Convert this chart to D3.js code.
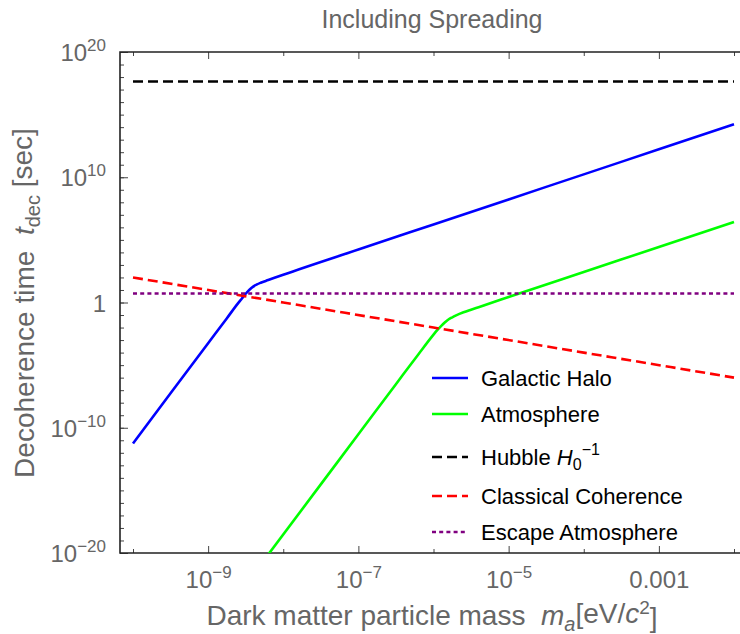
<!DOCTYPE html>
<html><head><meta charset="utf-8">
<script src="https://cdn.jsdelivr.net/npm/d3@7"></script>
<style>
body{margin:0;background:#fff;}
svg{display:block;font-family:"Liberation Sans",Arial,sans-serif;}
text{white-space:pre;}
</style></head><body>
<svg id="c" width="740" height="634"></svg>
<script>
// ---- data (mass in eV/c^2, time in sec) ----
const haloMass = [1e-10,3.16e-10,1e-9,1.78e-9,2.51e-9,2.82e-9,3.16e-9,3.55e-9,3.98e-9,4.47e-9,5.01e-9,6.31e-9,1e-8,1e-7,1e-6,1e-5,1e-4,1e-3,1e-2];
const haloTime = [5.6e-12,5.6e-8,5.6e-4,5.6e-2,0.89,2.1,5.0,10.5,18.6,28,38,62,165,1.7e4,1.7e6,1.7e8,1.7e10,1.7e12,1.7e14];
const atmMass = [5.62e-9,3.16e-8,1e-7,3.16e-7,6.31e-7,1e-6,1.12e-6,1.26e-6,1.41e-6,1.58e-6,1.78e-6,2.0e-6,2.51e-6,3.16e-6,3.98e-6,1e-5,1e-4,1e-3,1e-2];
const atmTime = [3.0e-21,3.0e-15,3.0e-11,3.0e-7,7.5e-5,2.7e-3,6.2e-3,1.3e-2,2.5e-2,4.4e-2,6.6e-2,9.3e-2,0.164,0.267,0.425,2.7,270,2.7e4,2.7e6];
const hubbleMass = [1e-10,1e-2];
const hubbleTime = [4.4e17,4.4e17];
const classMass = [1e-10,1e-8,1e-6,1e-4,1e-2];
const classTime = [100,1,1e-2,1e-4,1e-6];
const escMass = [1e-10,1e-2];
const escTime = [5.2,5.2];

const xMajorTicks = [1e-9,1e-7,1e-5,1e-3];
const xMajorLabels = [["10","−9"],["10","−7"],["10","−5"],["0.001",""]];
const xMinorTicks = [1e-10,1e-8,1e-6,1e-4,1e-2];
const yMajorTicks = [1e-20,1e-10,1,1e10,1e20];
const yMajorLabels = [["10","−20"],["10","−10"],["1",""],["10","10"],["10","20"]];
const yMinorTicks = d3.range(-20,21).map(e=>Math.pow(10,e));

const seriesNames = ["Galactic Halo","Atmosphere","Hubble","Classical Coherence","Escape Atmosphere"];
const seriesColors = ["#0000ff","#00ff00","#000000","#ff0000","#800080"];
const seriesDash = [null,null,"10,5","10,5","4,3.2"];

// ---- layout ----
const L=120,R=740,T=52,B=553;
const svg=d3.select("#c");
const x=d3.scaleLog().domain([1e-10,1e-2]).range([133,734]);
const y=d3.scaleLog().domain([1e-20,1e20]).range([B,T]);
const gray="#666666";

svg.append("defs").append("clipPath").attr("id","clip")
  .append("rect").attr("x",L).attr("y",T).attr("width",R-L).attr("height",B-T);

// title
svg.append("text").attr("x",432).attr("y",28).attr("text-anchor","middle")
  .attr("font-size",25).attr("fill",gray).text("Including Spreading");

function styleAxis(g){g.select(".domain").remove();g.selectAll(".tick line").attr("stroke","#444").attr("stroke-width",1);}

// x axis bottom
const xMajor=d3.axisBottom(x).tickValues(xMajorTicks).tickSize(-7).tickPadding(12).tickFormat(()=>"");
const gxb=svg.append("g").attr("transform",`translate(0,${B})`).call(xMajor).call(styleAxis);
gxb.selectAll(".tick text").each(function(d,i){
  const t=d3.select(this).attr("font-size",24).attr("fill",gray).attr("font-family","Liberation Sans, Arial, sans-serif").attr("dy","0.95em");
  t.append("tspan").text(xMajorLabels[i][0]);
  if(xMajorLabels[i][1]) t.append("tspan").attr("dy","-0.6em").attr("font-size",17).text(xMajorLabels[i][1]);
});
svg.append("g").attr("transform",`translate(0,${B})`).call(d3.axisBottom(x).tickValues(xMinorTicks).tickSize(-4).tickFormat(()=>"")).call(styleAxis);
// x axis top
svg.append("g").attr("transform",`translate(0,${T})`).call(d3.axisTop(x).tickValues(xMajorTicks).tickSize(-7).tickFormat(()=>"")).call(styleAxis);
svg.append("g").attr("transform",`translate(0,${T})`).call(d3.axisTop(x).tickValues(xMinorTicks).tickSize(-4).tickFormat(()=>"")).call(styleAxis);

// y axis
const gyl=svg.append("g").attr("transform",`translate(${L},0)`).call(d3.axisLeft(y).tickValues(yMajorTicks).tickSize(-8).tickPadding(14).tickFormat(()=>"")).call(styleAxis);
gyl.selectAll(".tick text").each(function(d,i){
  const t=d3.select(this).attr("font-size",24).attr("fill",gray).attr("font-family","Liberation Sans, Arial, sans-serif").attr("dy","0.36em");
  t.append("tspan").text(yMajorLabels[i][0]);
  if(yMajorLabels[i][1]) t.append("tspan").attr("dy","-0.6em").attr("font-size",17).text(yMajorLabels[i][1]);
});
svg.append("g").attr("transform",`translate(${L},0)`).call(d3.axisLeft(y).tickValues(yMinorTicks).tickSize(-4).tickFormat(()=>"")).call(styleAxis);

// frame
svg.append("path").attr("d",`M${R},${T}H${L}V${B}H${R}`).attr("fill","none").attr("stroke","#222").attr("stroke-width",1.6);

// series
const plot=svg.append("g").attr("clip-path","url(#clip)");
const line=d3.line().x(d=>x(d[0])).y(d=>y(d[1])).curve(d3.curveMonotoneX);
const series=[
  d3.zip(haloMass,haloTime),
  d3.zip(atmMass,atmTime),
  d3.zip(hubbleMass,hubbleTime),
  d3.zip(classMass,classTime),
  d3.zip(escMass,escTime)
];
series.forEach((s,i)=>{
  plot.append("path").datum(s).attr("d",line).attr("fill","none")
    .attr("stroke",seriesColors[i]).attr("stroke-width",2.6)
    .attr("stroke-dasharray",seriesDash[i]);
});

// legend
const legY=[378,414,457,496,532];
const leg=svg.append("g");
seriesNames.forEach((n,i)=>{
  leg.append("line").attr("x1",432).attr("x2",468).attr("y1",legY[i]).attr("y2",legY[i])
    .attr("stroke",seriesColors[i]).attr("stroke-width",2.6).attr("stroke-dasharray",seriesDash[i]);
  const t=leg.append("text").attr("x",481).attr("y",legY[i]).attr("dy","0.36em").attr("font-size",22).attr("fill","#000");
  if(i===2){
    t.append("tspan").text("Hubble ");
    t.append("tspan").attr("font-style","italic").text("H");
    t.append("tspan").attr("font-size",16).attr("dy","0.3em").text("0");
    t.append("tspan").attr("font-size",16).attr("dy","-0.95em").text("−1");
  } else t.text(n);
});

// x label
const xl=svg.append("text").attr("x",432).attr("y",625).attr("text-anchor","middle").attr("font-size",28).attr("fill",gray);
xl.append("tspan").text("Dark matter particle mass  ");
xl.append("tspan").attr("font-style","italic").text("m");
xl.append("tspan").attr("font-style","italic").attr("font-size",20).attr("dy","0.3em").text("a");
xl.append("tspan").attr("dy","-0.3em").text("[eV/");
xl.append("tspan").attr("font-style","italic").text("c");
xl.append("tspan").attr("font-size",19).attr("dy","-0.45em").text("2");
xl.append("tspan").attr("dy","0.45em").text("]");

// y label
const yl=svg.append("text").attr("transform","translate(34,303) rotate(-90)").attr("text-anchor","middle").attr("font-size",28).attr("fill",gray);
yl.append("tspan").text("Decoherence time  ");
yl.append("tspan").attr("font-style","italic").text("t");
yl.append("tspan").attr("font-size",20).attr("dy","0.3em").text("dec");
yl.append("tspan").attr("dy","-0.3em").text(" [sec]");
</script>
</body></html>
